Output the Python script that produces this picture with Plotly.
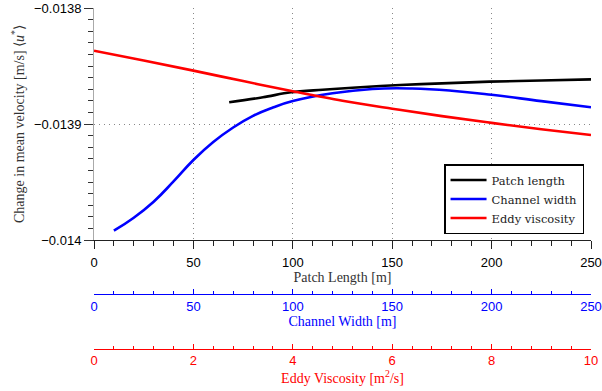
import plotly.graph_objects as go

# ---- data ----
patch_length = [68, 85, 99, 115, 130, 154, 175, 199, 225, 250]
patch_vel = [-0.0138813, -0.0138770, -0.0138727, -0.0138705, -0.0138687,
             -0.0138664, -0.0138650, -0.0138635, -0.0138625, -0.0138615]

channel_width = [10, 20, 30, 40, 50, 60, 70, 80, 90, 100, 120, 140, 160, 180, 200, 225, 250]
channel_vel = [-0.0139920, -0.0139808, -0.0139670, -0.0139495, -0.0139310,
               -0.0139155, -0.0139030, -0.0138930, -0.0138858, -0.0138802,
               -0.0138735, -0.0138698, -0.0138694, -0.0138713, -0.0138748,
               -0.0138803, -0.0138856]

eddy_visc = [0, 1, 2, 3, 4, 5, 6, 7, 8, 9, 10]
eddy_vel = [-0.0138368, -0.0138453, -0.0138540, -0.0138630, -0.0138718, -0.0138800,
            -0.0138868, -0.0138932, -0.0138990, -0.0139045, -0.0139095]

y_tickvals = [-0.014, -0.0139, -0.0138]
y_ticktext = ["\u22120.014", "\u22120.0139", "\u22120.0138"]

SERIF = "Liberation Serif"
SANS = "Liberation Sans"
H = 391
PLOT_H = H - 8
GRID_DASH = "1px,4px"

def py(pix):
    return (H - pix) / PLOT_H

fig = go.Figure()
fig.add_trace(go.Scatter(x=patch_length, y=patch_vel, mode="lines", name="Patch length",
                         line=dict(color="black", width=2.6, shape="spline", smoothing=1.0),
                         xaxis="x", yaxis="y"))
fig.add_trace(go.Scatter(x=channel_width, y=channel_vel, mode="lines", name="Channel width",
                         line=dict(color="#0000ff", width=2.6, shape="spline", smoothing=1.3),
                         xaxis="x2", yaxis="y"))
fig.add_trace(go.Scatter(x=eddy_visc, y=eddy_vel, mode="lines", name="Eddy viscosity",
                         line=dict(color="#ff0000", width=2.6, shape="spline", smoothing=1.0),
                         xaxis="x3", yaxis="y"))

fig.update_layout(
    width=602, height=H,
    margin=dict(l=94, r=11, t=8, b=0, autoexpand=False),
    plot_bgcolor="white", paper_bgcolor="white",
    font=dict(family=SANS, size=13, color="black"),
    showlegend=True,
    legend=dict(x=0.986, xanchor="right", y=py(234), yanchor="bottom",
                bgcolor="white", bordercolor="black", borderwidth=1.5,
                font=dict(family="DejaVu Serif", size=11.5, color="#222"),
                tracegroupgap=0, itemwidth=36),
    xaxis=dict(domain=[0, 1], range=[0, 250], anchor="y",
               tickvals=[0, 50, 100, 150, 200, 250],
               ticks="outside", ticklen=8, tickcolor="#222", tickwidth=1,
               minor=dict(dtick=10, ticks="outside", ticklen=5, tickcolor="#222", showgrid=False),
               showline=True, linecolor="#222", linewidth=1,
               showgrid=True, gridcolor="#888", griddash=GRID_DASH, gridwidth=1,
               zeroline=False, ticklabelstandoff=2,
               tickfont=dict(family=SANS, size=13, color="black"),
               title=dict(text="Patch Length [m]", font=dict(family=SERIF, size=14, color="#333"),
                          standoff=2)),
    xaxis2=dict(domain=[0, 1], range=[0, 250], overlaying="x", anchor="free", position=py(294), side="bottom",
                tickvals=[0, 50, 100, 150, 200, 250],
                ticks="inside", ticklen=5, tickcolor="#0000ff",
                minor=dict(dtick=10, ticks="inside", ticklen=3, tickcolor="#0000ff", showgrid=False),
                showline=True, linecolor="#0000ff", linewidth=1,
                showgrid=False, zeroline=False, ticklabelstandoff=0,
                tickfont=dict(family=SANS, size=13, color="#0000ff"),
                title=dict(text="Channel Width [m]", font=dict(family=SERIF, size=14, color="#0000ff"),
                           standoff=1)),
    xaxis3=dict(domain=[0, 1], range=[0, 10], overlaying="x", anchor="free", position=py(348.5), side="bottom",
                tickvals=[0, 2, 4, 6, 8, 10],
                ticks="inside", ticklen=5, tickcolor="#ff0000",
                minor=dict(dtick=0.4, ticks="inside", ticklen=3, tickcolor="#ff0000", showgrid=False),
                showline=True, linecolor="#ff0000", linewidth=1,
                showgrid=False, zeroline=False, ticklabelstandoff=0,
                tickfont=dict(family=SANS, size=13, color="#ff0000"),
                title=dict(text="Eddy Viscosity [m<sup>2</sup>/s]", font=dict(family=SERIF, size=14, color="#ff0000"),
                           standoff=1)),
    yaxis=dict(domain=[py(240), 1], range=[-0.014, -0.0138], anchor="x",
               tickvals=y_tickvals, ticktext=y_ticktext,
               ticks="outside", ticklen=9, tickcolor="#333",
               minor=dict(dtick=0.00001, ticks="outside", ticklen=5, tickcolor="#333", showgrid=False),
               showline=True, linecolor="#aaa", linewidth=1,
               showgrid=True, gridcolor="#888", griddash=GRID_DASH, gridwidth=1,
               zeroline=False,
               tickfont=dict(family=SANS, size=13, color="black"),
               title=dict(text="Change in mean velocity [m/s] \u27e8<i>u</i><sup>*</sup>\u27e9",
                          font=dict(family=SERIF, size=14, color="#333"), standoff=6)),
)

fig.write_html("out.html")
